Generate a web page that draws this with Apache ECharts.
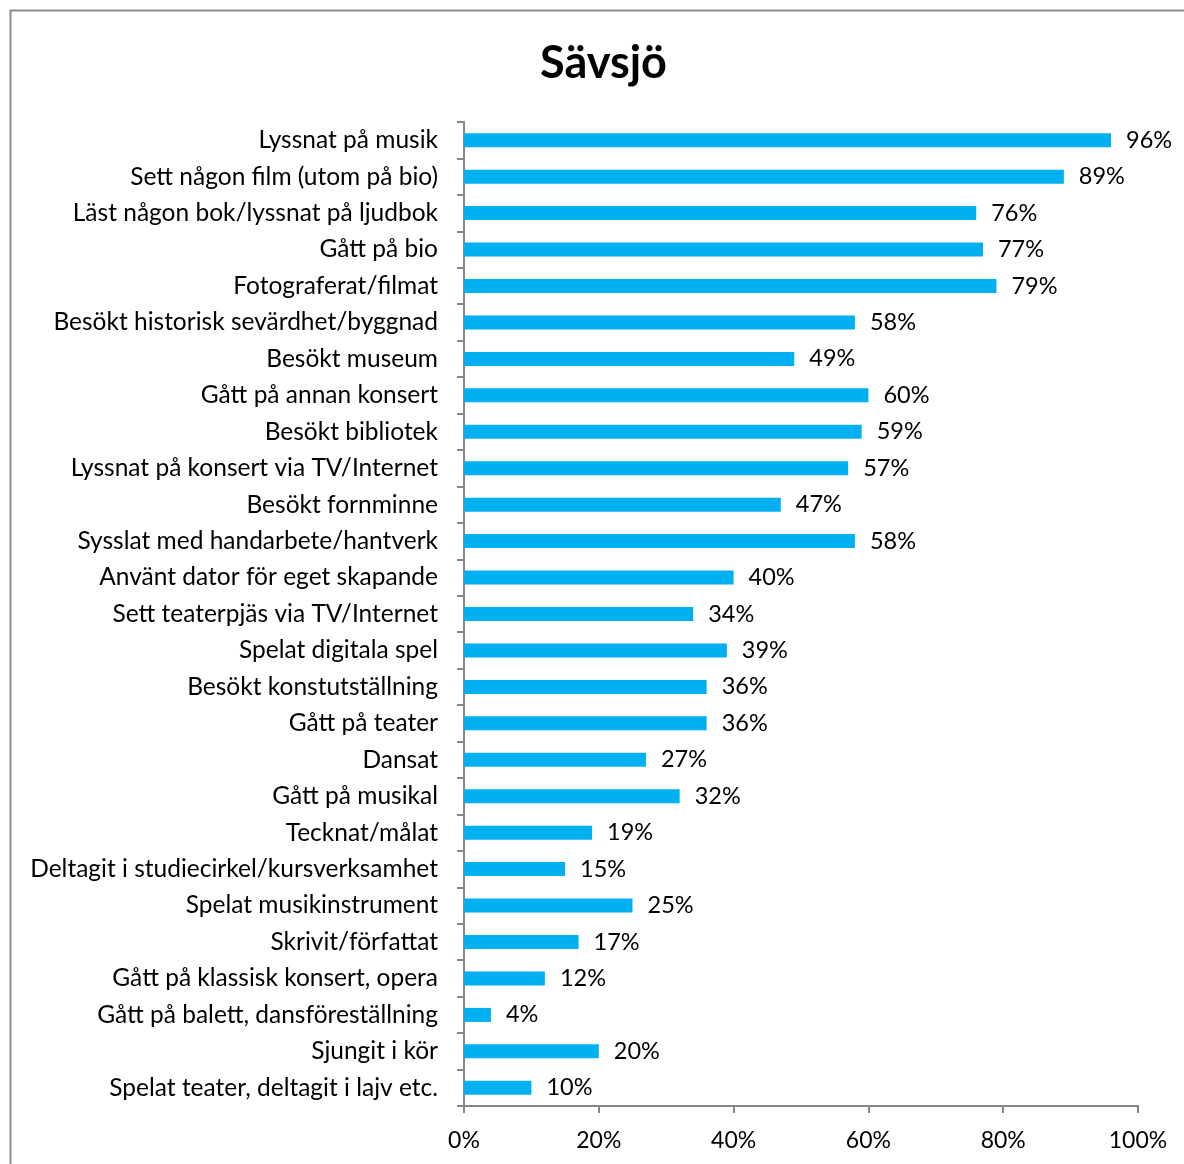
<!DOCTYPE html>
<html>
<head>
<meta charset="utf-8">
<script src="https://cdn.jsdelivr.net/npm/echarts@6/dist/echarts.min.js"></script>
<style>
  html, body { margin: 0; padding: 0; background: #fff; }
  #main { width: 1184px; height: 1164px; }
</style>
</head>
<body>
<div id="main"></div>
<script>
// aktiviteter, uppifrån och ner
const categories = [
    'Lyssnat på musik',
    'Sett någon film (utom på bio)',
    'Läst någon bok/lyssnat på ljudbok',
    'Gått på bio',
    'Fotograferat/filmat',
    'Besökt historisk sevärdhet/byggnad',
    'Besökt museum',
    'Gått på annan konsert',
    'Besökt bibliotek',
    'Lyssnat på konsert via TV/Internet',
    'Besökt fornminne',
    'Sysslat med handarbete/hantverk',
    'Använt dator för eget skapande',
    'Sett teaterpjäs via TV/Internet',
    'Spelat digitala spel',
    'Besökt konstutställning',
    'Gått på teater',
    'Dansat',
    'Gått på musikal',
    'Tecknat/målat',
    'Deltagit i studiecirkel/kursverksamhet',
    'Spelat musikinstrument',
    'Skrivit/författat',
    'Gått på klassisk konsert, opera',
    'Gått på balett, dansföreställning',
    'Sjungit i kör',
    'Spelat teater, deltagit i lajv etc.'
];
const values = [96, 89, 76, 77, 79, 58, 49, 60, 59, 57, 47, 58, 40, 34, 39, 36, 36, 27, 32, 19, 15, 25, 17, 12, 4, 20, 10];
const xTicks = [0, 20, 40, 60, 80, 100];

const font = 'Lato, "Open Sans", sans-serif';
const axisGrey = '#868686';

const myChart = echarts.init(document.getElementById('main'));
const option = {
    backgroundColor: '#fff',
    animation: false,
    title: {
        text: 'Sävsjö',
        left: 535,
        top: 36,
        textStyle: { fontFamily: font, fontSize: 45, fontWeight: 'bold', color: '#000' }
    },
    graphic: [{
        type: 'rect',
        shape: { x: 10.5, y: 10.5, width: 1300, height: 1300 },
        style: { fill: null, stroke: '#8c8c8c', lineWidth: 2 },
        silent: true
    }],
    grid: { left: 464, right: 46, top: 122, bottom: 58 },
    xAxis: {
        type: 'value',
        min: 0,
        max: 100,
        interval: 20,
        axisLine: { show: true, lineStyle: { color: axisGrey, width: 2 } },
        axisTick: { show: true, length: 7, lineStyle: { color: axisGrey, width: 2 } },
        splitLine: { show: false },
        axisLabel: {
            margin: 23,
            fontFamily: font,
            fontSize: 23,
            color: '#000',
            formatter: v => xTicks.includes(v) ? v + '%' : ''
        }
    },
    yAxis: {
        type: 'category',
        inverse: true,
        data: categories,
        axisLine: { show: true, lineStyle: { color: axisGrey, width: 2 } },
        axisTick: { show: true, length: 7, lineStyle: { color: axisGrey, width: 2 } },
        axisLabel: { margin: 26, fontFamily: font, fontSize: 24.5, color: '#000' }
    },
    series: [{
        type: 'bar',
        data: values,
        barWidth: 14,
        itemStyle: { color: '#00B0F0' },
        label: {
            show: true,
            position: 'right',
            distance: 15,
            fontFamily: font,
            fontSize: 23.5,
            color: '#000',
            formatter: p => p.value + '%'
        }
    }]
};
myChart.setOption(option);
</script>
</body>
</html>
